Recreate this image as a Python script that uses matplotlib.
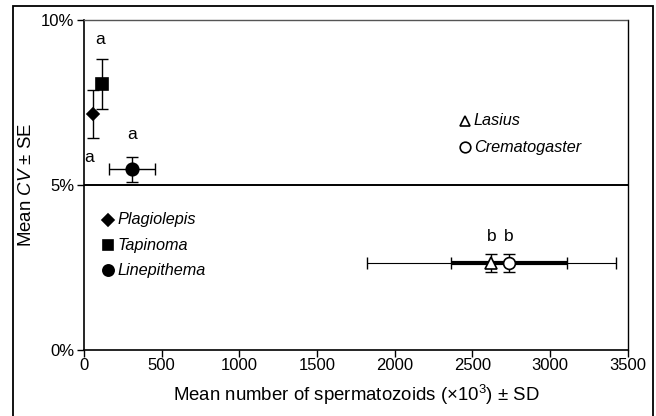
import numpy as np
import matplotlib.pyplot as plt
from matplotlib.patches import Rectangle

plt.rcParams['font.family'] = ['Liberation Sans', 'DejaVu Sans']
plt.rcParams['mathtext.fontset'] = 'custom'
plt.rcParams['mathtext.it'] = 'Liberation Sans:italic'
plt.rcParams['mathtext.rm'] = 'Liberation Sans'

# data
species = ['Plagiolepis', 'Tapinoma', 'Linepithema', 'Lasius', 'Crematogaster']
sperm_mean = [58, 116, 309, 2622, 2735]      # x10^3
sperm_sd = [0, 0, 148, 801, 376]
cv_mean = [7.15, 8.06, 5.48, 2.64, 2.63]     # %
cv_se = [0.73, 0.77, 0.38, 0.27, 0.27]
letters = ['a', 'a', 'a', 'b', 'b']

xticks = [0, 500, 1000, 1500, 2000, 2500, 3000, 3500]
yticks = [0, 5, 10]

# style per species
markers = ['D', 's', 'o', '^', 'o']
msizes = [6.5, 8.5, 9, 8, 8.5]
faces = ['black', 'black', 'black', 'white', 'white']
xerr_lw = [1, 1, 1, 0.8, 3]
letter_off = [(-3, -31), (-1, 32), (0, 25), (0, 19), (0, 19)]

fig = plt.figure(figsize=(6.56, 4.16), dpi=100)
ax = fig.add_axes([0.128, 0.1587, 0.829, 0.7933])

# outer frame
fig.patches.append(Rectangle((0.0198, -0.02), 0.9756, 1.0056, transform=fig.transFigure,
                             fill=False, edgecolor='black', linewidth=1.3))

ax.axhline(5, color='black', linewidth=1.4, zorder=1)

for i in range(len(species)):
    xe = sperm_sd[i] if sperm_sd[i] > 0 else None
    if xe is not None:
        ax.errorbar(sperm_mean[i], cv_mean[i], xerr=xe, fmt='none', ecolor='black',
                    elinewidth=xerr_lw[i], capsize=4, capthick=1, zorder=2)
    ax.errorbar(sperm_mean[i], cv_mean[i], yerr=cv_se[i], fmt='none', ecolor='black',
                elinewidth=1, capsize=4, capthick=1, zorder=3)
    ax.plot(sperm_mean[i], cv_mean[i], marker=markers[i], ms=msizes[i], mfc=faces[i],
            mec='black', mew=1.2, linestyle='none', zorder=4)
    ax.annotate(letters[i], (sperm_mean[i], cv_mean[i]), xytext=letter_off[i],
                textcoords='offset points', ha='center', va='center', fontsize=12.5)

# in-plot key
key_pos = [(0.045, 0.395), (0.045, 0.318), (0.045, 0.241), (0.70, 0.695), (0.70, 0.615)]
for i in range(len(species)):
    kx, ky = key_pos[i]
    ax.plot(kx, ky, marker=markers[i], ms=msizes[i] * 0.9, mfc=faces[i], mec='black',
            mew=1.2, transform=ax.transAxes, clip_on=False, linestyle='none')
    ax.text(kx + 0.017, ky, species[i], style='italic', fontsize=11.7,
            ha='left', va='center', transform=ax.transAxes)

ax.set_xlim(0, 3500)
ax.set_ylim(0, 10)
ax.set_xticks(xticks)
ax.set_yticks(yticks)
ax.set_yticklabels([f'{t}%' for t in yticks])
ax.tick_params(direction='out', length=5, width=1, labelsize=12, colors='black')
ax.tick_params(axis='x', pad=1)
ax.tick_params(axis='y', pad=2)

ax.spines['top'].set_linestyle((0, (3, 1)))
ax.spines['top'].set_color('#555555')
ax.spines['top'].set_linewidth(1)
for s in ['left', 'bottom']:
    ax.spines[s].set_linewidth(1.2)
ax.spines['right'].set_linewidth(1)

ax.set_xlabel(r'Mean number of spermatozoids (×10$^{3}$) ± SD', fontsize=13.4, labelpad=7)
ax.set_ylabel(r'Mean $\it{CV}$ ± SE', fontsize=13.4, labelpad=4)

plt.savefig('out.png', dpi=100)
